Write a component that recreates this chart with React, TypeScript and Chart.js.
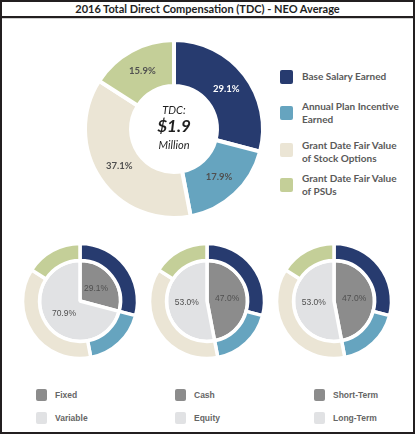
import React, { useEffect, useRef } from 'react';
import { Chart, registerables } from 'chart.js';

Chart.register(...registerables);

// ---------- data ----------
const chartTitle = '2016 Total Direct Compensation (TDC) - NEO Average';
const componentLabels = [
  ['Base Salary Earned'],
  ['Annual Plan Incentive', 'Earned'],
  ['Grant Date Fair Value', 'of Stock Options'],
  ['Grant Date Fair Value', 'of PSUs'],
];
const componentShares = [29.1, 17.9, 37.1, 15.9];
const componentColors = ['#273B6F', '#66A4BF', '#EBE5D5', '#C4CF98'];
const componentLabelColors = ['#FFFFFF', '#505050', '#505050', '#505050'];
const centerLines = ['TDC:', '$1.9', 'Million'];

const splitLabels = [
  ['Fixed', 'Variable'],
  ['Cash', 'Equity'],
  ['Short-Term', 'Long-Term'],
];
const fixedVariable = [29.1, 70.9];
const cashEquity = [47.0, 53.0];
const shortLong = [47.0, 53.0];
const splitValues = [fixedVariable, cashEquity, shortLong];
const splitColors = ['#8C8C8C', '#E1E2E4'];

// ---------- label plugin ----------
const pctLabels = {
  id: 'pctLabels',
  afterDatasetsDraw(chart: any) {
    const ctx = chart.ctx;
    chart.data.datasets.forEach((ds: any, di: number) => {
      const cfg = ds.pctLabel;
      if (!cfg) return;
      const meta = chart.getDatasetMeta(di);
      meta.data.forEach((arc: any, i: number) => {
        const p = arc.tooltipPosition(false);
        ctx.save();
        ctx.font = cfg.font;
        ctx.fillStyle = cfg.colors[i];
        ctx.textAlign = 'center';
        ctx.textBaseline = 'middle';
        ctx.fillText(Number(ds.data[i]).toFixed(1) + '%', p.x, p.y);
        ctx.restore();
      });
    });
  },
};

function MainDonut() {
  const ref = useRef<HTMLCanvasElement>(null);
  useEffect(() => {
    const outer = 89;
    const inner = 43;
    const chart = new Chart(ref.current!, {
      type: 'doughnut',
      data: {
        labels: componentLabels.map((l) => l.join(' ')),
        datasets: [
          {
            data: componentShares,
            backgroundColor: componentColors,
            borderColor: '#FFFFFF',
            borderWidth: 4,
            borderJoinStyle: 'miter',
            pctLabel: { font: 'bold 9.5px Lato', colors: componentLabelColors },
          } as any,
        ],
      },
      options: {
        responsive: false,
        animation: false,
        radius: outer,
        cutout: (inner / outer) * 100 + '%',
        plugins: { legend: { display: false }, tooltip: { enabled: false } },
        layout: { padding: 0 },
      } as any,
      plugins: [pctLabels],
    });
    return () => chart.destroy();
  }, []);
  return (
    <canvas
      ref={ref}
      width={200}
      height={200}
      style={{ position: 'absolute', left: 74, top: 29, width: 200, height: 200 }}
    />
  );
}

function SplitDonut({ values, cx, cy }: { values: number[]; cx: number; cy: number }) {
  const ref = useRef<HTMLCanvasElement>(null);
  useEffect(() => {
    const chart = new Chart(ref.current!, {
      type: 'doughnut',
      data: {
        datasets: [
          {
            data: componentShares,
            backgroundColor: componentColors,
            borderColor: '#FFFFFF',
            borderWidth: 3.5,
            borderJoinStyle: 'miter',
            weight: 17,
          } as any,
          {
            data: values,
            backgroundColor: splitColors,
            borderColor: '#FFFFFF',
            borderWidth: 3.5,
            borderJoinStyle: 'bevel',
            weight: 40.5,
            pctLabel: { font: '8.5px "Liberation Sans"', colors: ['#505050', '#505050'] },
          } as any,
        ],
      },
      options: {
        responsive: false,
        animation: false,
        radius: 57.5,
        cutout: 0,
        plugins: { legend: { display: false }, tooltip: { enabled: false } },
        layout: { padding: 0 },
      } as any,
      plugins: [pctLabels],
    });
    return () => chart.destroy();
  }, [values]);
  return (
    <canvas
      ref={ref}
      width={130}
      height={130}
      style={{ position: 'absolute', left: cx - 65, top: cy - 65, width: 130, height: 130 }}
    />
  );
}

const abs = (s: React.CSSProperties): React.CSSProperties => ({ position: 'absolute', ...s });

export default function App() {
  const legendSquareTops = [70, 106, 143, 178];
  const legendTextTops = [70, 100, 139, 172];
  const bottomCenters = [79.5, 206.5, 333.5];
  const bottomLegendX = [36, 175, 314];
  return (
    <div
      style={abs({
        left: 0,
        top: 0,
        width: 415,
        height: 434,
        background: '#FFFFFF',
        overflow: 'hidden',
        fontFamily: 'Lato, sans-serif',
      })}
    >
      <div
        style={abs({
          left: 0,
          top: 0,
          width: 415,
          height: 434,
          boxSizing: 'border-box',
          border: '2px solid #231F20',
        })}
      />
      <div
        style={abs({
          left: 2,
          top: 2,
          width: 411,
          height: 14,
          lineHeight: '14px',
          textAlign: 'center',
          fontWeight: 700,
          fontSize: 11,
          color: '#1E1E1E',
        })}
      >
        {chartTitle}
      </div>
      <div style={abs({ left: 2, top: 16, width: 411, height: 2, background: '#231F20' })} />
      <div style={abs({ left: 2, top: 18, width: 411, height: 1, background: '#CFCFCF' })} />

      <MainDonut />
      <div
        style={abs({
          left: 129,
          top: 103,
          width: 90,
          textAlign: 'center',
          color: '#1E1E1E',
          fontStyle: 'italic',
        })}
      >
        <div style={{ fontSize: 11, lineHeight: '13px' }}>{centerLines[0]}</div>
        <div style={{ fontSize: 17, fontWeight: 700, lineHeight: '19px' }}>{centerLines[1]}</div>
        <div style={{ fontSize: 11, lineHeight: '13px', marginTop: 3 }}>{centerLines[2]}</div>
      </div>

      {componentLabels.map((lines, i) => (
        <React.Fragment key={i}>
          <div
            style={abs({
              left: 280,
              top: legendSquareTops[i],
              width: 13,
              height: 14,
              borderRadius: 2,
              background: componentColors[i],
            })}
          />
          <div
            style={abs({
              left: 302,
              top: legendTextTops[i],
              fontSize: 10,
              fontWeight: 700,
              lineHeight: '13px',
              color: '#5A5A5A',
              whiteSpace: 'nowrap',
            })}
          >
            {lines.map((l, j) => (
              <div key={j}>{l}</div>
            ))}
          </div>
        </React.Fragment>
      ))}

      {splitValues.map((v, i) => (
        <SplitDonut key={i} values={v} cx={bottomCenters[i]} cy={301} />
      ))}

      {splitLabels.map((pair, i) =>
        pair.map((label, j) => (
          <React.Fragment key={i + '-' + j}>
            <div
              style={abs({
                left: bottomLegendX[i],
                top: 389 + j * 23,
                width: 11,
                height: 12,
                borderRadius: 2,
                background: splitColors[j],
              })}
            />
            <div
              style={abs({
                left: bottomLegendX[i] + 19,
                top: 389 + j * 23,
                height: 12,
                lineHeight: '12px',
                fontSize: 8.5,
                fontWeight: 700,
                fontFamily: '"Liberation Sans", Arial, sans-serif',
                color: '#666666',
                whiteSpace: 'nowrap',
              })}
            >
              {label}
            </div>
          </React.Fragment>
        ))
      )}
    </div>
  );
}
